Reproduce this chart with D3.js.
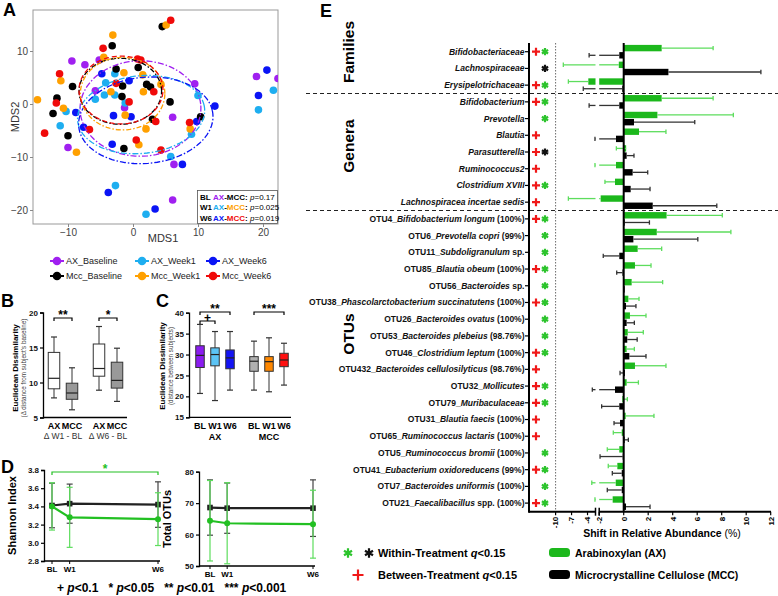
<!DOCTYPE html>
<html><head><meta charset="utf-8">
<script src="https://cdn.jsdelivr.net/npm/d3@7"></script>
<style>body{margin:0;background:#fff}svg{display:block}text{font-family:"Liberation Sans",Arial,sans-serif}</style>
</head><body><svg id="c" width="778" height="596"></svg>
<script>
// ================= DATA =================
// Panel A: MDS coordinates per group
const mdsGroups = ["AX_Baseline","AX_Week1","AX_Week6","Mcc_Baseline","Mcc_Week1","Mcc_Week6"];
const mdsColors = ["#A020F0","#1EAEF0","#0A14F5","#000000","#FFA000","#F00A0A"];
const axBaselinePts = [[-9.4,8.1],[-7.4,7.4],[-5.2,8.3],[-5.8,2.5],[-1.3,-0.7],[9.5,3.8],[6.1,-2.5],[-10.0,-8.2],[6.3,-11.4],[6.1,-18.1],[19.0,5.2],[22.3,4.8]];
const axWeek1Pts = [[-2.8,5.7],[-4.2,4.0],[-5.8,0.9],[-4.4,1.7],[-2.8,1.7],[-1.2,0.2],[-10.3,-1.4],[-11.2,-4.1],[10.0,1.6],[9.0,-5.7],[5.8,-9.9],[-2.7,-15.4],[2.0,-20.8],[21.6,2.6],[19.3,-1.1]];
const axWeek6Pts = [[-4.8,5.7],[-0.6,4.4],[-8.8,-1.6],[-7.6,-4.4],[-3.0,-2.2],[-0.3,-2.4],[9.8,-3.3],[12.6,-0.4],[-3.2,-7.6],[7.6,-11.4],[-3.8,-16.7],[3.4,-19.8],[20.6,6.4],[19.3,1.6]];
const mccBaselinePts = [[4.5,14.6],[-3.2,11.0],[-2.6,6.6],[0.8,6.9],[-9.3,3.3],[-11.7,1.1],[-12.3,-1.8],[-10.0,-6.0],[-1.7,1.4],[-1.6,3.4],[2.1,3.7],[2.7,3.2],[5.7,0.4],[3.0,-2.9],[10.4,-2.4],[-1.4,-8.4]];
const mccWeek1Pts = [[5.1,14.9],[-3.1,13.0],[-4.5,8.8],[-11.1,4.4],[-14.7,0.8],[-10.7,-0.8],[-1.4,5.9],[1.5,5.5],[1.6,2.3],[-3.4,2.3],[4.3,3.7],[-1.2,-2.1],[2.0,-4.7],[0.9,-7.7],[8.8,-4.7],[-8.7,-9.1]];
const mccWeek6Pts = [[5.8,15.8],[-4.6,10.5],[0.7,8.5],[1.2,8.3],[-11.3,5.7],[-2.6,3.9],[3.2,2.3],[-11.8,0.2],[-13.6,-5.5],[-0.6,0.4],[-6.7,-4.8],[3.5,-3.3],[0.5,-6.8],[4.3,-8.7],[8.7,-3.5]];
// ellipse: [cx, cy, rx, ry, angle(deg)] in MDS units
const mdsEllipses = [[1.15,-0.85,9.3,9.0,5],[1.25,-2.0,9.85,7.3,10],[1.97,-3.08,10.4,8.1,10],[-1.95,2.4,6.35,6.23,0],[-1.6,1.95,6.5,6.85,0],[-1.85,2.64,6.46,6.4,0]];
const mdsXTicks = [-10,0,10,20];
const mdsYTicks = [-20,-10,0,10];
const permTests = ["BL","W1","W6"];
const permP = ["0.17","0.025","0.019"];

// Panel B: within-subject change boxes
const bLabels = ["AX","MCC","AX","MCC"];
const bGroups = ["\u0394 W1 - BL","\u0394 W6 - BL"];
const bMin = [7.8,6.1,8.9,7.3];
const bQ1  = [9.1,7.6,10.9,9.2];
const bMed = [10.6,8.5,12.0,10.3];
const bQ3  = [14.3,9.9,15.5,12.9];
const bMax = [16.5,12.1,18.0,14.9];
const bTicks = [5,10,15,20];

// Panel C: between-subject distance boxes
const cLabels = ["BL","W1","W6","BL","W1","W6"];
const cGroups = ["AX","MCC"];
const cMin = [20.7,19.0,21.5,21.5,21.1,22.7];
const cQ1  = [26.9,27.3,26.6,26.0,26.0,27.1];
const cMed = [29.8,30.0,29.2,28.4,28.3,28.7];
const cQ3  = [32.1,31.6,31.1,29.5,29.5,30.3];
const cMax = [37.2,35.5,35.5,33.2,34.0,32.7];
const cColors = ["#8B1CF0","#5CC4F5","#1414F5","#B0B0B0","#FF8800","#FF1010"];
const cTicks = [15,20,25,30,35,40];

// Panel D: alpha diversity
const dTimes = ["BL","W1","W6"];
const dWeeks = [0,1,6];
const shanMcc = [3.41,3.43,3.42], shanMccSd = [0.245,0.215,0.25];
const shanAx  = [3.40,3.28,3.26], shanAxSd  = [0.26,0.33,0.29];
const otuMcc = [68.6,68.4,68.4], otuMccSd = [8.8,8.0,9.0];
const otuAx  = [64.4,63.6,63.3], otuAxSd  = [12.8,12.9,10.8];
const shanTicks = [2.8,3.0,3.2,3.4,3.6,3.8];
const otuTicks = [50,60,70,80];

// Panel E: shifts in relative abundance
const eLabels = [
 "*Bifidobacteriaceae*","*Lachnospiraceae*","*Erysipelotrichaceae*",
 "*Bifidobacterium*","*Prevotella*","*Blautia*","*Parasutterella*","*Ruminococcus2*","*Clostridium XVIII*","*Lachnospiracea incertae sedis*",
 "OTU4_*Bifidobacterium longum* (100%)","OTU6_*Prevotella copri* (99%)","OTU11_*Subdoligranulum* sp.","OTU85_*Blautia obeum* (100%)",
 "OTU56_*Bacteroides* sp.","OTU38_*Phascolarctobacterium succinatutens* (100%)","OTU26_*Bacteroides ovatus* (100%)",
 "OTU53_*Bacteroides plebeius* (98.76%)","OTU46_*Clostridium leptum* (100%)","OTU432_*Bacteroides cellulosilyticus* (98.76%)",
 "OTU32_*Mollicutes*","OTU79_*Muribaculaceae*","OTU31_*Blautia faecis* (100%)","OTU65_*Ruminococcus lactaris* (100%)",
 "OTU5_*Ruminococcus bromii* (100%)","OTU41_*Eubacterium oxidoreducens* (99%)","OTU7_*Bacteroides uniformis* (100%)","OTU21_*Faecalibacillus* spp. (100%)"];
const eSections = ["Families","Genera","OTUs"];
const eSectionSize = [3,7,18];
const eAX    = [3.1,-0.4,-3.85,3.1,2.75,1.25,0.2,-0.63,-0.71,-1.88,3.5,2.7,1.14,0.92,0.65,0.38,0.51,0.33,0.24,0.92,0.24,-0.11,0.16,-0.16,-0.36,-0.52,-0.65,-0.9];
const eAXErr = [7.3,-8.55,-7.6,7.3,8.95,3.45,-0.6,-2.6,-1.53,-7.6,8.05,8.75,3.1,2.23,3.18,1.25,1.82,1.6,0.87,3.45,1.2,0.3,2.47,-0.85,-1.34,-1.26,-3.2,-2.6];
const eMCC    = [-0.36,3.65,-0.12,-0.36,0.84,-0.63,0.24,0.73,0.57,2.37,0.05,0.79,-0.36,-0.1,0.05,0.19,0.24,0.29,0.46,0.1,-0.71,-0.36,-0.3,0.02,-0.08,-0.16,-0.16,0.19];
const eMCCErr = [-3.7,11.2,-4.8,-3.7,5.8,-2.6,0.84,1.96,2.15,7.6,2.1,6.05,-1.67,-0.57,0.05,1.0,0.87,1.1,1.82,-0.3,-3.1,-1.8,-0.79,0.38,-1.93,-0.93,-1.34,2.15];
const eBetween = [1,0,1,1,0,1,1,1,1,1,1,0,0,1,0,1,0,0,1,1,1,1,1,1,0,1,0,1];
const eWithinAX = [1,0,1,1,1,0,0,0,1,0,1,1,1,1,1,1,1,1,1,0,1,1,0,0,1,1,1,1];
const eWithinMCC = [0,1,0,0,0,0,1,0,0,0,0,0,0,0,0,0,0,0,0,0,0,0,0,0,0,0,0,0];
const eTicksLeft = [-10,-7,-4];
const eTicksRight = [-2,0,2,4,6,8,10,12];

// ================= DRAW =================
const svg = d3.select("#c");
svg.append("rect").attr("width",778).attr("height",596).attr("fill","#fff");
const SERIF = '"Liberation Serif","Times New Roman",serif';
function panelLabel(t,x,y){svg.append("text").text(t).attr("x",x).attr("y",y).attr("font-size",18).attr("font-weight","bold");}
panelLabel("A",3,16);panelLabel("B",1,307);panelLabel("C",156,307);panelLabel("D",1,473);panelLabel("E",320,17);

// ---------- Panel A ----------
const A = {l:33,t:10,r:278,b:224};
const xA = d3.scaleLinear().domain([-10,10]).range([68,198]);
const yA = d3.scaleLinear().domain([-20,10]).range([210,51]);
const gA = svg.append("g");
svg.append("clipPath").attr("id","clipA").append("rect").attr("x",A.l).attr("y",A.t).attr("width",A.r-A.l).attr("height",A.b-A.t);
gA.append("rect").attr("x",A.l).attr("y",A.t).attr("width",A.r-A.l).attr("height",A.b-A.t).attr("fill","none").attr("stroke","#999").attr("stroke-width",1);
const axA1 = gA.append("g").attr("transform",`translate(0,${A.b})`).call(d3.axisBottom(xA).tickValues(mdsXTicks).tickSize(3).tickPadding(2));
const axA2 = gA.append("g").attr("transform",`translate(${A.l},0)`).call(d3.axisLeft(yA).tickValues(mdsYTicks).tickSize(3).tickPadding(2));
[axA1,axA2].forEach(a=>{a.select(".domain").remove();a.selectAll("line").attr("stroke","#888");a.selectAll("text").attr("font-family",SERIF).attr("font-size",10).attr("fill","#444");});
gA.append("text").text("MDS1").attr("x",163).attr("y",242).attr("text-anchor","middle").attr("font-size",11).attr("fill","#333");
gA.append("text").text("MDS2").attr("transform","translate(19,117) rotate(-90)").attr("text-anchor","middle").attr("font-size",11).attr("fill","#333");
const plotA = gA.append("g").attr("clip-path","url(#clipA)");
const mdsPts = [axBaselinePts,axWeek1Pts,axWeek6Pts,mccBaselinePts,mccWeek1Pts,mccWeek6Pts];
const dashes = ["6,2,1.5,2","6,2,1.5,2","6,2,1.5,2","5,2,1.5,2","5,2,1.5,2","5,3"];
mdsPts.forEach((pts,gi)=>{
  plotA.selectAll(null).data(pts).enter().append("circle")
    .attr("cx",d=>xA(d[0])).attr("cy",d=>yA(d[1])).attr("r",3.8).attr("fill",mdsColors[gi]);
});
mdsEllipses.forEach((e,gi)=>{
  const [cx,cy,rx,ry,ang]=e; const a=ang*Math.PI/180;
  const pts=d3.range(0,361,4).map(t=>{const r=t*Math.PI/180;
    return [xA(cx+rx*Math.cos(r)*Math.cos(a)-ry*Math.sin(r)*Math.sin(a)), yA(cy+rx*Math.cos(r)*Math.sin(a)+ry*Math.sin(r)*Math.cos(a))];});
  plotA.append("path").attr("d",d3.line().curve(d3.curveLinearClosed)(pts)).attr("fill","none")
    .attr("stroke",mdsColors[gi]).attr("stroke-width",1.3).attr("stroke-dasharray",dashes[gi]);
});
// permanova box
const pb = gA.append("g");
pb.append("rect").attr("x",197.5).attr("y",190.5).attr("width",80).attr("height",33).attr("fill","#fff").attr("stroke","#555").attr("stroke-width",0.8);
const pairCols = [["#A020F0","#000"],["#1EAEF0","#FFA000"],["#0A14F5","#F00A0A"]];
permTests.forEach((t,i)=>{
  const y=199.5+i*10.5;
  pb.append("text").text(t).attr("x",200).attr("y",y).attr("font-size",8).attr("font-weight","bold");
  const tx=pb.append("text").attr("x",213).attr("y",y).attr("font-size",8).attr("font-weight","bold");
  tx.append("tspan").text("AX").attr("fill",pairCols[i][0]);
  tx.append("tspan").text("-");
  tx.append("tspan").text("MCC").attr("fill",pairCols[i][1]);
  tx.append("tspan").text(":");
  const pt=pb.append("text").attr("x",250).attr("y",y).attr("font-size",8);
  pt.append("tspan").text("p").attr("font-style","italic");
  pt.append("tspan").text("="+permP[i]);
});
// legend below A
const legX=[57,142,213], legY=[261,276];
mdsGroups.forEach((g,i)=>{
  const col=i%3,row=Math.floor(i/3);
  const x=legX[col],y=legY[row];
  svg.append("line").attr("x1",x-7).attr("x2",x+7).attr("y1",y).attr("y2",y).attr("stroke",mdsColors[i]).attr("stroke-width",2);
  svg.append("circle").attr("cx",x).attr("cy",y).attr("r",4.3).attr("fill",mdsColors[i]);
  svg.append("text").text(g).attr("x",x+9).attr("y",y+3.3).attr("font-size",9).attr("fill","#222");
});

// ---------- shared helpers ----------
function styleAxis(a,fs){a.select(".domain").attr("stroke","#000").attr("stroke-width",1.3);a.selectAll("line").attr("stroke","#000").attr("stroke-width",1.2);a.selectAll("text").attr("font-size",fs||8).attr("font-weight","bold").attr("fill","#111");}
function bracket(g,x1,x2,y,label,col){
  g.append("path").attr("d",`M${x1},${y+3}V${y}H${x2}V${y+3}`).attr("fill","none").attr("stroke",col||"#000").attr("stroke-width",1.2);
  g.append("text").text(label).attr("x",(x1+x2)/2).attr("y",y+1).attr("text-anchor","middle").attr("font-size",12).attr("font-weight","bold").attr("fill",col||"#000");
}
function boxes(g,x,y,mins,q1,med,q3,maxs,fills,w){
  mins.forEach((_,i)=>{
    const cx=x(i);
    g.append("line").attr("x1",cx).attr("x2",cx).attr("y1",y(maxs[i])).attr("y2",y(mins[i])).attr("stroke","#333").attr("stroke-width",1);
    [mins[i],maxs[i]].forEach(v=>g.append("line").attr("x1",cx-3).attr("x2",cx+3).attr("y1",y(v)).attr("y2",y(v)).attr("stroke","#333").attr("stroke-width",1.2));
    g.append("rect").attr("x",cx-w/2).attr("y",y(q3[i])).attr("width",w).attr("height",y(q1[i])-y(q3[i])).attr("fill",fills[i]).attr("stroke","#333").attr("stroke-width",1);
    g.append("line").attr("x1",cx-w/2).attr("x2",cx+w/2).attr("y1",y(med[i])).attr("y2",y(med[i])).attr("stroke","#222").attr("stroke-width",1.2);
  });
}

// ---------- Panel B ----------
const gB = svg.append("g");
const yB = d3.scaleLinear().domain([5,20]).range([417.5,312.5]);
const bSlot = [0,1,2.5,3.5];
const xB = i=>d3.scaleLinear().domain([0,3.5]).range([54,117])(bSlot[i]);
styleAxis(gB.append("g").attr("transform","translate(43,0)").call(d3.axisLeft(yB).tickValues(bTicks).tickSize(3).tickPadding(2)));
gB.append("line").attr("x1",43).attr("x2",127).attr("y1",417.5).attr("y2",417.5).attr("stroke","#000").attr("stroke-width",1.3);
boxes(gB,xB,yB,bMin,bQ1,bMed,bQ3,bMax,["#fff","#999","#fff","#999"],11.5);
bLabels.forEach((l,i)=>gB.append("text").text(l).attr("x",xB(i)).attr("y",429).attr("text-anchor","middle").attr("font-size",9).attr("font-weight","bold"));
bGroups.forEach((l,i)=>gB.append("text").text(l).attr("x",(xB(2*i)+xB(2*i+1))/2).attr("y",439).attr("text-anchor","middle").attr("font-size",8.5).attr("fill","#333"));
bracket(gB,xB(0),xB(1),318,"**");
bracket(gB,xB(2),xB(3),318,"*");
gB.append("text").text("Euclidean Dissimilarity").attr("transform","translate(18,368) rotate(-90)").attr("text-anchor","middle").attr("font-size",8).attr("font-weight","bold");
gB.append("text").text("(\u0394 distance from subject's baseline)").attr("transform","translate(26,368) rotate(-90)").attr("text-anchor","middle").attr("font-size",6.3).attr("fill","#444");

// ---------- Panel C ----------
const gC = svg.append("g");
const yC = d3.scaleLinear().domain([15,40]).range([417.3,312.7]);
const cSlot = [0,1,2,3.6,4.6,5.6];
const xC = i=>d3.scaleLinear().domain([0,1]).range([200,215])(cSlot[i]);
styleAxis(gC.append("g").attr("transform","translate(189,0)").call(d3.axisLeft(yC).tickValues(cTicks).tickSize(3).tickPadding(2)));
gC.append("line").attr("x1",189).attr("x2",291).attr("y1",417.3).attr("y2",417.3).attr("stroke","#000").attr("stroke-width",1.3);
boxes(gC,xC,yC,cMin,cQ1,cMed,cQ3,cMax,cColors,8.5);
cLabels.forEach((l,i)=>gC.append("text").text(l).attr("x",xC(i)).attr("y",429).attr("text-anchor","middle").attr("font-size",9).attr("font-weight","bold"));
cGroups.forEach((l,i)=>gC.append("text").text(l).attr("x",xC(3*i+1)).attr("y",440).attr("text-anchor","middle").attr("font-size",9).attr("font-weight","bold"));
bracket(gC,xC(0),xC(2),312,"**");
bracket(gC,xC(0),xC(1),321,"+");
bracket(gC,xC(3),xC(5),312,"***");
gC.append("text").text("Euclidean Dissimilarity").attr("transform","translate(165,366) rotate(-90)").attr("text-anchor","middle").attr("font-size",8).attr("font-weight","bold");
gC.append("text").text("(distance between subjects)").attr("transform","translate(173,366) rotate(-90)").attr("text-anchor","middle").attr("font-size",6.3).attr("fill","#444");

// ---------- Panel D ----------
const GREEN="#22C022", GREENL="#5DDD5D";
function linePanel(g,xr,yScale,ticks,ax,axSd,mcc,mccSd,axisX,ylab){
  const x = d3.scaleLinear().domain([0,6]).range(xr);
  const yb = yScale.range()[0], yt=yScale.range()[1];
  styleAxis(g.append("g").attr("transform",`translate(${axisX},0)`).call(d3.axisLeft(yScale).tickValues(ticks).tickSize(3).tickPadding(2).tickFormat(d=>d.toFixed(ticks[0]<10?1:0))));
  g.append("line").attr("x1",axisX).attr("x2",xr[1]+2).attr("y1",yb).attr("y2",yb).attr("stroke","#000").attr("stroke-width",1.3);
  dWeeks.forEach((w,i)=>{
    g.append("line").attr("x1",x(w)).attr("x2",x(w)).attr("y1",yb).attr("y2",yb+3).attr("stroke","#000");
    g.append("text").text(dTimes[i]).attr("x",x(w)).attr("y",yb+11).attr("text-anchor","middle").attr("font-size",8).attr("font-weight","bold");
  });
  function series(m,sd,col,ecol,sq){
    m.forEach((v,i)=>{
      g.append("line").attr("x1",x(dWeeks[i])).attr("x2",x(dWeeks[i])).attr("y1",yScale(v-sd[i])).attr("y2",yScale(v+sd[i])).attr("stroke",ecol).attr("stroke-width",1.2);
      [v-sd[i],v+sd[i]].forEach(e=>g.append("line").attr("x1",x(dWeeks[i])-3).attr("x2",x(dWeeks[i])+3).attr("y1",yScale(e)).attr("y2",yScale(e)).attr("stroke",ecol).attr("stroke-width",1.2));
    });
    g.append("path").attr("d",d3.line().x((d,i)=>x(dWeeks[i])).y(d=>yScale(d))(m)).attr("fill","none").attr("stroke",col).attr("stroke-width",2.2);
    m.forEach((v,i)=>{
      if(sq) g.append("rect").attr("x",x(dWeeks[i])-2.8).attr("y",yScale(v)-2.8).attr("width",5.6).attr("height",5.6).attr("fill",col);
      else g.append("circle").attr("cx",x(dWeeks[i])).attr("cy",yScale(v)).attr("r",3).attr("fill",col);
    });
  }
  series(mcc,mccSd,"#222","#444",true);
  series(ax,axSd,GREEN,GREENL,false);
  g.append("text").text(ylab).attr("transform",`translate(${axisX-28},${(yb+yt)/2}) rotate(-90)`).attr("text-anchor","middle").attr("font-size",11).attr("font-weight","bold");
  return x;
}
const gD1 = svg.append("g");
const yD1 = d3.scaleLinear().domain([2.8,3.8]).range([561,470]);
const xD1 = linePanel(gD1,[52,158],yD1,shanTicks,shanAx,shanAxSd,shanMcc,shanMccSd,44,"Shannon Index");
bracket(gD1,xD1(0),xD1(6),472,"*",GREEN);
const gD2 = svg.append("g");
const yD2 = d3.scaleLinear().domain([50,80]).range([566,471.7]);
linePanel(gD2,[210,313],yD2,otuTicks,otuAx,otuAxSd,otuMcc,otuMccSd,199,"Total OTUs");
// p legend
const pl = svg.append("text").attr("x",57).attr("y",592).attr("font-size",12).attr("font-weight","bold").attr("style","white-space:pre");
[["+ ","0.1"],["   * ","0.05"],["   ** ","0.01"],["   *** ","0.001"]].forEach(p=>{
  pl.append("tspan").text(p[0]);
  pl.append("tspan").text("p").attr("font-style","italic");
  pl.append("tspan").text("<"+p[1]);
});

// ---------- Panel E ----------
const gE = svg.append("g");
const eLeft = d3.scaleLinear().domain([-15,-2.5]).range([529,595.5]);
const eRight = d3.scaleLinear().domain([-2,12]).range([599.2,770.7]);
const xE = v => v >= -2 ? eRight(v) : eLeft(v);
function spans(a,b){const lo=Math.min(a,b),hi=Math.max(a,b);
  if(lo>=-2||hi<-2) return [[xE(lo),xE(hi)]];
  return [[eLeft(lo),eLeft.range()[1]],[eRight.range()[0],eRight(hi)]];}
const yE = d3.scalePoint().domain(d3.range(eLabels.length)).range([51.7,503.1]);
const eTop=43, eBot=511.7, eAxisX=529;
const eSectionLabelY = [52,146,334];
// dotted -10 line
gE.append("line").attr("x1",eLeft(-10)).attr("x2",eLeft(-10)).attr("y1",eTop).attr("y2",eBot).attr("stroke","#444").attr("stroke-width",0.8).attr("stroke-dasharray","1.5,1.5");
// section separators
let cum=0;
eSectionSize.forEach((n,si)=>{
  gE.append("text").text(eSections[si]).attr("transform",`translate(354,${eSectionLabelY[si]}) rotate(-90)`).attr("text-anchor","middle").attr("font-size",15.5).attr("font-weight","bold");
  cum+=n;
  if(si<eSectionSize.length-1){const ys=(yE(cum-1)+yE(cum))/2;
    gE.append("line").attr("x1",306).attr("x2",778).attr("y1",ys).attr("y2",ys).attr("stroke","#222").attr("stroke-width",1.1).attr("stroke-dasharray","4,3");}
});
// bars
function drawBars(vals,errs,fill,ecol,off){
  vals.forEach((v,i)=>{
    const y=yE(i)+off;
    spans(0,v).forEach(s=>gE.append("rect").attr("x",s[0]).attr("y",y).attr("width",Math.max(1,s[1]-s[0])).attr("height",6.4).attr("fill",fill));
    if(errs[i]!==v){
      spans(v,errs[i]).forEach(s=>gE.append("line").attr("x1",s[0]).attr("x2",s[1]).attr("y1",y+3.2).attr("y2",y+3.2).attr("stroke",ecol).attr("stroke-width",1.3));
      const xe=xE(errs[i]);
      gE.append("line").attr("x1",xe).attr("x2",xe).attr("y1",y+1).attr("y2",y+5.4).attr("stroke",ecol).attr("stroke-width",1.3);
    }
  });
}
drawBars(eAX,eAXErr,"#1CB81C",GREENL,-6.8);
drawBars(eMCC,eMCCErr,"#000","#333",0.4);
// zero line
gE.append("line").attr("x1",eRight(0)).attr("x2",eRight(0)).attr("y1",eTop).attr("y2",eBot).attr("stroke","#000").attr("stroke-width",2);
// left axis
gE.append("line").attr("x1",eAxisX).attr("x2",eAxisX).attr("y1",eTop).attr("y2",eBot+1).attr("stroke","#000").attr("stroke-width",2);
eLabels.forEach((l,i)=>{
  const y=yE(i);
  gE.append("line").attr("x1",eAxisX-4).attr("x2",eAxisX).attr("y1",y).attr("y2",y).attr("stroke","#000").attr("stroke-width",1.2);
  const t=gE.append("text").attr("x",eAxisX-4.5).attr("y",y).attr("dy","0.35em").attr("text-anchor","end").attr("font-size",8.5).attr("font-weight","bold").attr("fill","#111").attr("style","white-space:pre");
  l.split("*").forEach((p,k)=>{ if(p.length) t.append("tspan").text(p).attr("font-style",k%2?"italic":"normal"); });
});
// markers
function plus(g,x,y,s,col){g.append("path").attr("d",`M${x-s},${y}H${x+s}M${x},${y-s}V${y+s}`).attr("stroke",col).attr("stroke-width",2.2);}
function star(g,x,y,size,col){g.append("path").attr("transform",`translate(${x},${y})`).attr("d",d3.symbol(d3.symbolAsterisk,size)()).attr("stroke",col).attr("stroke-width",2.2).attr("fill","none");}
eLabels.forEach((l,i)=>{
  const y=yE(i);
  if(eBetween[i]) plus(gE,536,y,4,"#F01818");
  if(eWithinAX[i]) star(gE,545,y,36,"#2DC42D");
  if(eWithinMCC[i]) star(gE,545,y,36,"#111");
});
// x axis with break
gE.append("line").attr("x1",eAxisX).attr("x2",eLeft.range()[1]).attr("y1",eBot).attr("y2",eBot).attr("stroke","#000").attr("stroke-width",2);
gE.append("line").attr("x1",eRight.range()[0]).attr("x2",771).attr("y1",eBot).attr("y2",eBot).attr("stroke","#000").attr("stroke-width",2);
[eLeft.range()[1],eRight.range()[0]].forEach(x=>gE.append("line").attr("x1",x).attr("x2",x).attr("y1",eBot-4).attr("y2",eBot+4).attr("stroke","#000").attr("stroke-width",1.5));
function eTick(x,v){
  gE.append("line").attr("x1",x).attr("x2",x).attr("y1",eBot).attr("y2",eBot+3.5).attr("stroke","#000").attr("stroke-width",1.2);
  gE.append("text").text(v).attr("transform",`translate(${x},${eBot+5}) rotate(-90)`).attr("dy","0.35em").attr("text-anchor","end").attr("font-size",8).attr("font-weight","bold");
}
eTicksLeft.forEach(v=>eTick(eLeft(v),v));
eTicksRight.forEach(v=>eTick(eRight(v),v));
const xl=gE.append("text").attr("x",662).attr("y",537).attr("text-anchor","middle").attr("font-size",10.5).attr("font-weight","bold");
xl.append("tspan").text("Shift in Relative Abundance ");xl.append("tspan").text("(%)").attr("font-weight","normal");
// E legend
star(svg,348,553,60,"#2DC42D");star(svg,369,553,60,"#111");plus(svg,358,575,5.5,"#F01818");
const l1=svg.append("text").attr("x",378).attr("y",557).attr("font-size",11).attr("font-weight","bold");
l1.append("tspan").text("Within-Treatment ");l1.append("tspan").text("q").attr("font-style","italic");l1.append("tspan").text("<0.15");
const l2=svg.append("text").attr("x",378).attr("y",579).attr("font-size",11).attr("font-weight","bold");
l2.append("tspan").text("Between-Treatment ");l2.append("tspan").text("q").attr("font-style","italic");l2.append("tspan").text("<0.15");
svg.append("rect").attr("x",549).attr("y",548).attr("width",21).attr("height",9).attr("rx",3.5).attr("fill","#1CB81C");
svg.append("rect").attr("x",549).attr("y",570).attr("width",21).attr("height",9).attr("rx",3.5).attr("fill","#000");
svg.append("text").text("Arabinoxylan (AX)").attr("x",575).attr("y",557).attr("font-size",10.5).attr("font-weight","bold");
svg.append("text").text("Microcrystalline Cellulose (MCC)").attr("x",575).attr("y",579).attr("font-size",10.5).attr("font-weight","bold");
</script></body></html>
